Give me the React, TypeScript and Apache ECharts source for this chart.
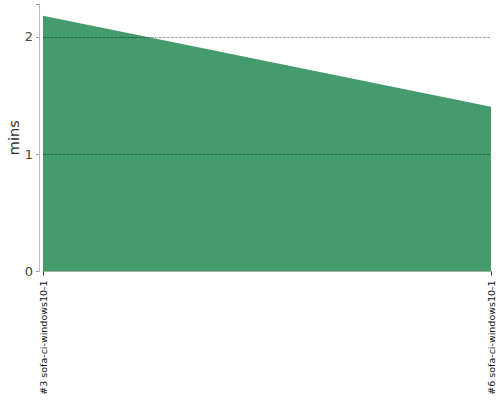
import React, { useEffect, useRef } from "react";
import * as echarts from "echarts";

const categories = ["#3 sofa-ci-windows10-1", "#6 sofa-ci-windows10-1"];
const durations = [2.18, 1.405];
const yTicks = [0, 1, 2];
const gridValues = [1, 2];

export default function App() {
  const ref = useRef<HTMLDivElement>(null);
  useEffect(() => {
    if (!ref.current) return;
    const chart = echarts.init(ref.current, undefined, { renderer: "svg" });
    chart.setOption({
      animation: false,
      textStyle: { fontFamily: "DejaVu Sans" },
      grid: {
        left: 43,
        right: 9,
        top: 4,
        bottom: 128.5,
        containLabel: false,
        outerBoundsMode: "none",
      },
      xAxis: {
        type: "category",
        data: categories,
        boundaryGap: false,
        offset: 4,
        axisLine: { lineStyle: { color: "#bbbbbb", width: 1 } },
        axisTick: { show: true, length: 4, lineStyle: { color: "#333" }, alignWithLabel: true },
        axisLabel: {
          rotate: 90,
          fontSize: 9.5,
          color: "#111",
          margin: 5,
          fontFamily: "DejaVu Sans",
        },
        splitLine: { show: false },
      },
      yAxis: {
        type: "value",
        min: 0,
        max: 2.28,
        interval: 1,
        offset: 4,
        name: "mins",
        nameLocation: "middle",
        nameGap: 18,
        nameMoveOverlap: false,
        nameRotate: 90,
        nameTextStyle: { fontSize: 14.5, color: "#333", fontFamily: "DejaVu Sans" },
        axisLine: { show: true, lineStyle: { color: "#bbbbbb", width: 1 } },
        axisTick: { show: true, length: 3, lineStyle: { color: "#999" } },
        axisLabel: {
          fontSize: 13,
          color: "#444",
          margin: 6,
          fontFamily: "DejaVu Sans",
          formatter: (v: number) => (yTicks.includes(v) ? String(v) : ""),
        },
        splitLine: { show: false },
      },
      series: [
        {
          type: "line",
          data: durations,
          symbol: "none",
          lineStyle: { width: 0 },
          areaStyle: { color: "#449c6c", opacity: 1 },
          z: 2,
          markLine: {
            silent: true,
            symbol: "none",
            label: { show: false },
            lineStyle: { color: "rgba(0,0,0,0.35)", type: [3, 1], width: 1 },
            data: gridValues.map((v) => ({ yAxis: v })),
          },
        },
      ],
    });
    return () => chart.dispose();
  }, []);
  return (
    <div
      ref={ref}
      style={{ position: "absolute", left: 0, top: 0, width: 500, height: 400 }}
    />
  );
}
